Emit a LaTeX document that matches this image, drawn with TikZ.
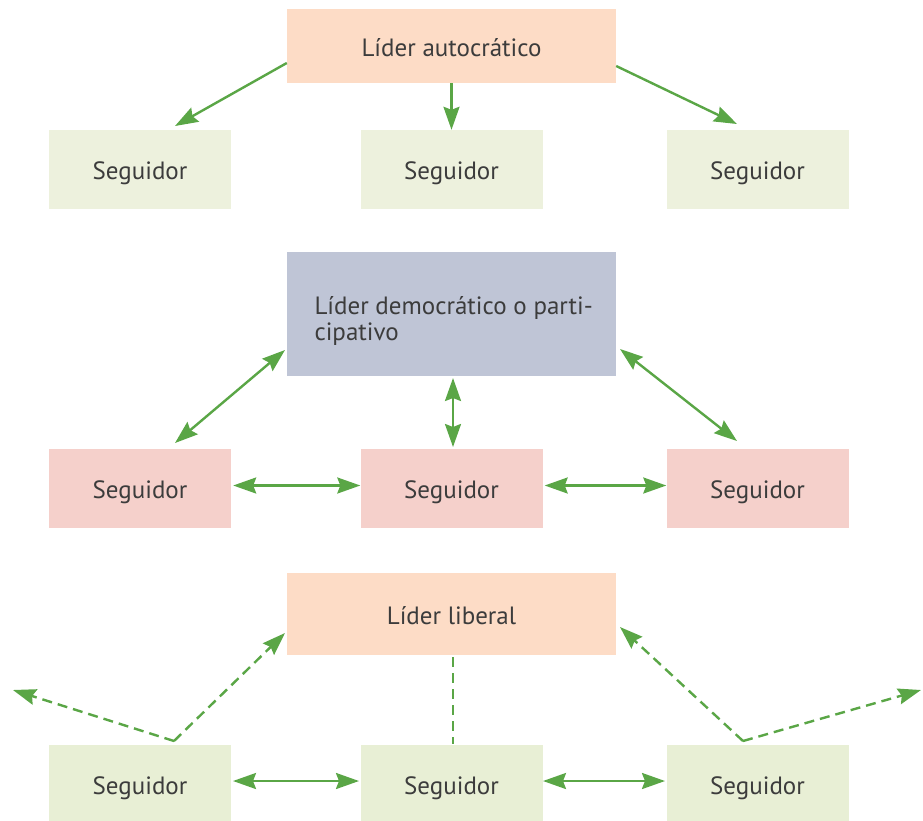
\documentclass[tikz,border=0pt]{standalone}
\usepackage{fontspec}
\setmainfont{PT Sans}
\usetikzlibrary{arrows.meta}
\definecolor{peach}{HTML}{FDDCC6}
\definecolor{lgreen}{HTML}{EDF1DD}
\definecolor{lgreenb}{HTML}{E8EFD5}
\definecolor{lblue}{HTML}{BFC5D6}
\definecolor{lpink}{HTML}{F5D0CB}
\definecolor{agreen}{HTML}{5AA646}
\definecolor{txt}{HTML}{3C3C3C}
\begin{document}
\begin{tikzpicture}[x=1pt,y=-1pt,
  box/.style={draw=none,minimum width=182pt,minimum height=79pt,inner sep=0pt,text=txt,font=\fontsize{25}{26}\selectfont,text height=26pt,text depth=6pt},
  lead/.style={box,minimum width=329pt},
  conn/.style={agreen,line width=2.4pt},
  tip/.style={-{Stealth[length=23pt,width=16pt,inset=3pt]}},
  dtip/.style={{Stealth[length=23pt,width=16pt,inset=3pt]}-{Stealth[length=23pt,width=16pt,inset=3pt]}},
  dsh/.style={dash pattern=on 10pt off 6pt}]
\useasboundingbox (0,0) rectangle (923,820);
% top
\node[lead,fill=peach,minimum height=74pt] (L1) at (451.5,46) {Líder autocrático};
\node[box,fill=lgreen] (A1) at (140,169.5) {Seguidor};
\node[box,fill=lgreen] (A2) at (451.5,169.5) {Seguidor};
\node[box,fill=lgreen] (A3) at (757.5,169.5) {Seguidor};
\draw[conn,tip] (L1.west|-0,63) -- (175,126);
\draw[conn,tip] (L1.south) -- (A2.north);
\draw[conn,tip] (L1.east|-0,66) -- (737,124);
% middle
\node[lead,fill=lblue,minimum height=124pt,align=left,text height=,text depth=] (L2) at (451.5,314) {\raisebox{-7pt}[\height][\depth]{\parbox{292pt}{\baselineskip=26pt \hspace*{9pt}Líder democrático o parti-\\\hspace*{9pt}cipativo}}};
\node[box,fill=lpink] (B1) at (140,488.5) {Seguidor};
\node[box,fill=lpink] (B2) at (451.5,488.5) {Seguidor};
\node[box,fill=lpink] (B3) at (757.5,488.5) {Seguidor};
\draw[conn,dtip] (175,443) -- (285,350);
\draw[conn,dtip] (453,378) -- (453,447);
\draw[conn,dtip] (620,349) -- (737,441);
\draw[conn,dtip] (B1.east) ++(2,-3) coordinate (b1e) (b1e) -- (B2.west|-b1e);
\draw[conn,dtip] (B2.east) ++(2,-3) coordinate (b2e) (b2e) -- (B3.west|-b2e);
% bottom
\node[lead,fill=peach,minimum height=82pt] (L3) at (451.5,614) {Líder liberal};
\node[box,fill=lgreenb] (C1) at (140,784) {Seguidor};
\node[box,fill=lgreenb] (C2) at (451.5,784) {Seguidor};
\node[box,fill=lgreenb] (C3) at (757.5,784) {Seguidor};
\coordinate (p1) at (174,741);
\coordinate (p2) at (743,741);
\coordinate (e1) at (13,690);
\coordinate (e2) at (921,690);
\draw[conn,dsh,tip] (p1) -- (285,633);
\draw[conn,dsh,tip] (p1) -- (e1);
\draw[conn,dsh,tip] (p2) -- (620,627);
\draw[conn,dsh,tip] (p2) -- (e2);
\draw[conn,dsh] (453,657) -- (453,744);
\draw[conn,dtip] (233,781) -- (359,781);
\draw[conn,dtip] (543,781) -- (665,781);
\end{tikzpicture}
\end{document}
